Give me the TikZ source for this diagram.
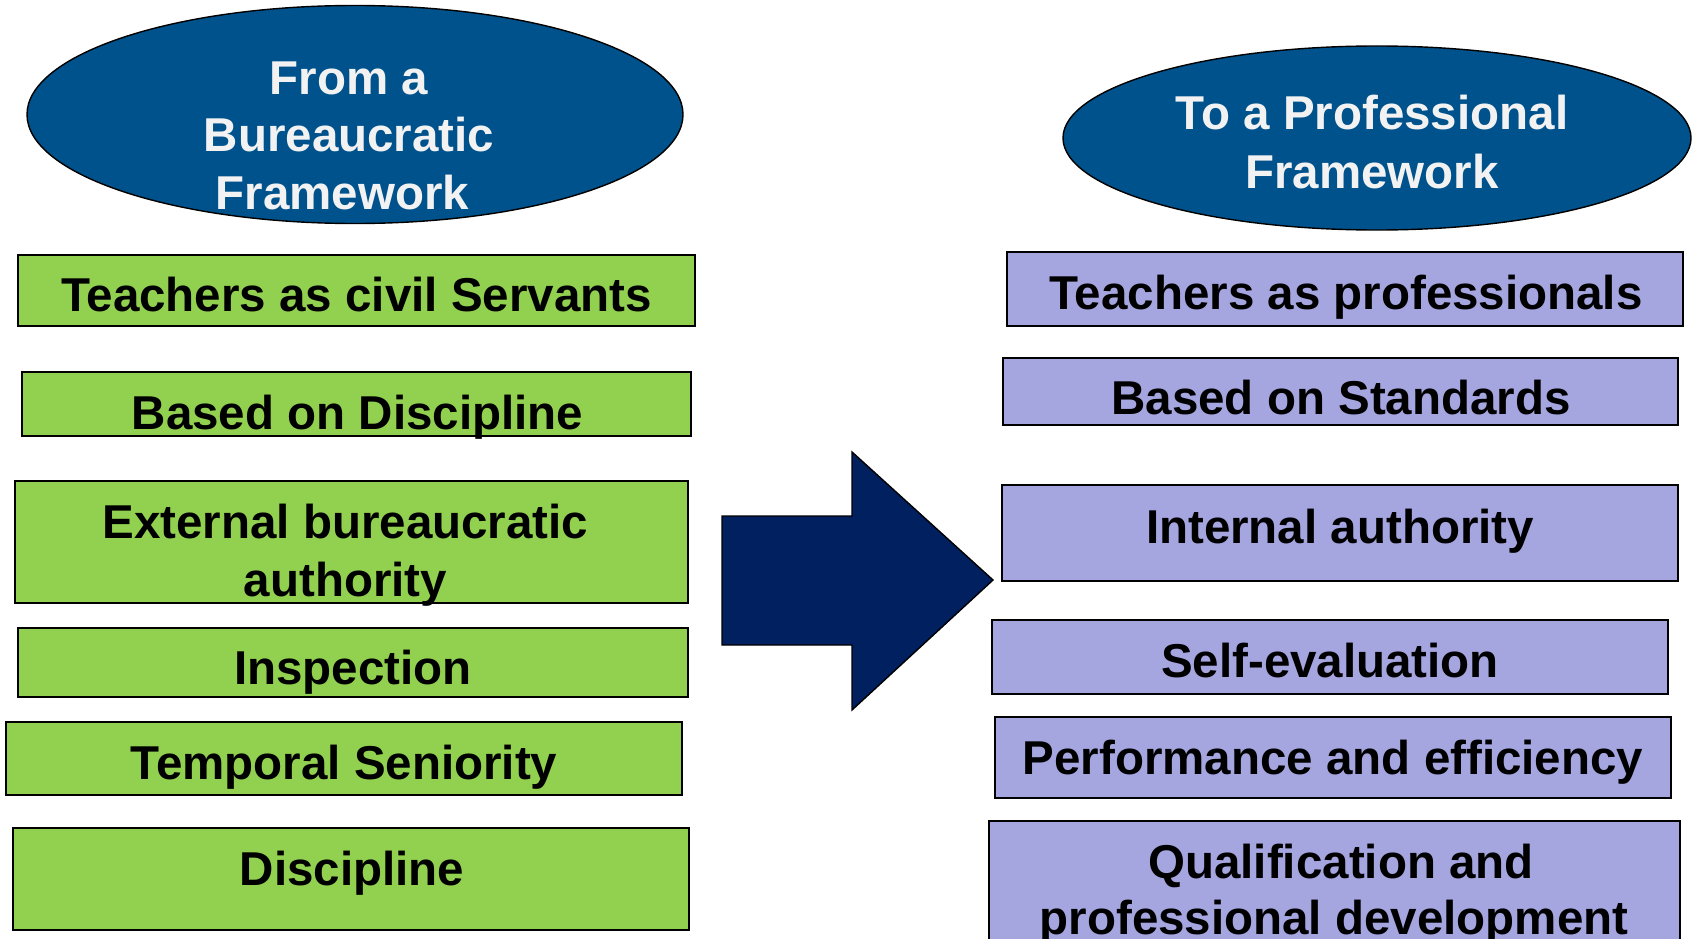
\documentclass[tikz,border=0pt]{standalone}
\usepackage{fontspec}
\setmainfont{Liberation Sans}
\usetikzlibrary{shapes.geometric}
\definecolor{boxgreen}{HTML}{92D050}
\definecolor{boxlav}{HTML}{A5A5E0}
\definecolor{ovalblue}{HTML}{00528C}
\definecolor{arrownavy}{HTML}{002060}
\definecolor{ovaltext}{HTML}{F2F2F2}
\tikzset{
  oval/.style={ellipse, draw=black, line width=1.4pt, fill=ovalblue, inner sep=0pt},
  gbox/.style={rectangle, draw=black, line width=1.4pt, fill=boxgreen, inner sep=0pt},
  pbox/.style={rectangle, draw=black, line width=1.4pt, fill=boxlav, inner sep=0pt},
  boxtext/.style={anchor=base, inner sep=0pt, font=\bfseries\fontsize{47.5}{57}\selectfont},
  ovaltxt/.style={boxtext, text=ovaltext},
}
\begin{document}
\begin{tikzpicture}[x=1pt,y=-1pt]
\clip (0,0) rectangle (1694,939);
\fill[white] (0,0) rectangle (1694,939);

% header ovals
\node[oval, minimum width=656pt, minimum height=218pt] (from) at (355,114.5) {};
\node[ovaltxt] (from1) at (349,95) {From a};
\node[ovaltxt] (from2) at (349,152) {Bureaucratic};
\node[ovaltxt] (from3) at (342.5,209) {Framework};

\node[oval, minimum width=628pt, minimum height=184pt] (to) at (1377,138) {};
\node[ovaltxt] (to1) at (1372,130) {To a Professional};
\node[ovaltxt] (to2) at (1372,188) {Framework};

% bureaucratic column
\node[gbox, minimum width=677pt, minimum height=71pt] (l1) at (356.5,290.5) {};
\node[boxtext] at (356.5,311) {Teachers as civil Servants};
\node[gbox, minimum width=669pt, minimum height=64pt] (l2) at (356.5,404) {};
\node[boxtext] at (357.5,429) {Based on Discipline};
\node[gbox, minimum width=673pt, minimum height=122pt] (l3) at (351.5,542) {};
\node[boxtext] at (345.5,538) {External bureaucratic};
\node[boxtext] at (345.5,596) {authority};
\node[gbox, minimum width=670pt, minimum height=69pt] (l4) at (353,662.5) {};
\node[boxtext] at (353,684) {Inspection};
\node[gbox, minimum width=676pt, minimum height=73pt] (l5) at (344,758.5) {};
\node[boxtext] at (344,779) {Temporal Seniority};
\node[gbox, minimum width=676pt, minimum height=102pt] (l6) at (351,879) {};
\node[boxtext] at (352,885) {Discipline};

% transition arrow
\draw[line width=1.4pt, fill=arrownavy, line join=miter]
  (722,516) -- (852,516) -- (852,452) -- (993,580) -- (852,710) -- (852,645) -- (722,645) -- cycle;

% professional column
\node[pbox, minimum width=676pt, minimum height=74pt] (r1) at (1345,289) {};
\node[boxtext] at (1346,309) {Teachers as professionals};
\node[pbox, minimum width=675pt, minimum height=67pt] (r2) at (1340.5,391.5) {};
\node[boxtext] at (1341,414) {Based on Standards};
\node[pbox, minimum width=676pt, minimum height=96pt] (r3) at (1340,533) {};
\node[boxtext] at (1340,543) {Internal authority};
\node[pbox, minimum width=676pt, minimum height=74pt] (r4) at (1330,657) {};
\node[boxtext] at (1330,677) {Self-evaluation};
\node[pbox, minimum width=676pt, minimum height=81pt] (r5) at (1333,757.5) {};
\node[boxtext] at (1333,774) {Performance and efficiency};
\node[pbox, minimum width=691pt, minimum height=150pt] (r6) at (1334.5,896) {};
\node[boxtext] at (1341,878) {Qualification and};
\node[boxtext] at (1334,934) {professional development};
\end{tikzpicture}
\end{document}
